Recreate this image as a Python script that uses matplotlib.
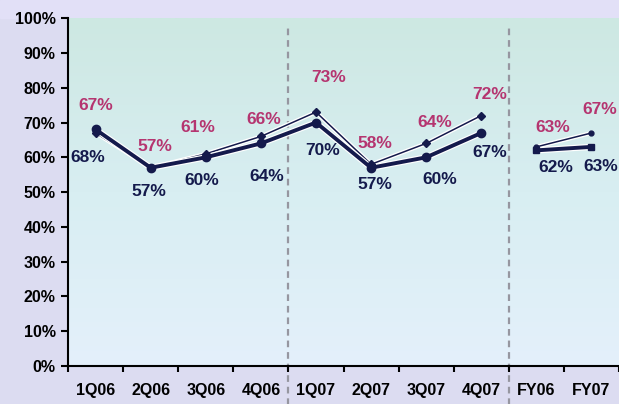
import numpy as np
import matplotlib.pyplot as plt
import matplotlib.patheffects as pe
from matplotlib.colors import LinearSegmentedColormap

# periods: eight quarters then two full years
periods = ['1Q06', '2Q06', '3Q06', '4Q06', '1Q07', '2Q07', '3Q07', '4Q07', 'FY06', 'FY07']
upper = [67, 57, 61, 66, 73, 58, 64, 72, 63, 67]   # thin line, pink labels
lower = [68, 57, 60, 64, 70, 57, 60, 67, 62, 63]   # thick line, navy labels
yticks = [0, 10, 20, 30, 40, 50, 60, 70, 80, 90, 100]

# label offsets in points (dx, dy)
upper_off = [(0, 20), (3, 15), (-6, 19), (2, 12), (9, 25), (3, 15), (6, 15), (6, 15), (12, 14), (6, 17)]
lower_off = [(-6, -20), (-1, -17), (-3, -17), (4, -24), (5, -20), (3, -12), (10, -16), (6, -14), (14, -12), (7, -14)]

navy = '#141a4c'
pink = '#b53570'

plt.rcParams['font.family'] = ['Liberation Sans', 'DejaVu Sans']
plt.rcParams['font.weight'] = 'bold'

fig = plt.figure(figsize=(6.19, 4.04), dpi=100, facecolor='#dcdcf1')
ax = fig.add_axes([0.110, 0.094, 0.890, 0.861])

# lighter lavender band along the top
fig.patches.append(plt.Rectangle((0, 0.955), 1, 0.045, transform=fig.transFigure,
                                 color='#e2e0f7', zorder=-1))

x = np.arange(len(periods))
ax.set_xlim(-0.5, len(periods) - 0.5)
ax.set_ylim(0, 100)

# gradient background inside the plot area
cmap = LinearSegmentedColormap.from_list('bg', ['#e4f0fb', '#d8eef2', '#cde8e2'])
grad = np.linspace(0, 1, 256).reshape(-1, 1)
ax.imshow(grad, extent=[-0.5, len(periods) - 0.5, 0, 100], origin='lower',
          aspect='auto', cmap=cmap, zorder=0)

# separators between the years and the annual figures
for xv in [3.5, 7.5]:
    ax.axvline(xv, ymin=-0.12, ymax=0.98, color='#9696a0', lw=1.6,
               ls=(0, (3, 2.2)), clip_on=False, zorder=1)

outline = [pe.Stroke(linewidth=4.5, foreground='white'), pe.Normal()]
outline_thin = [pe.Stroke(linewidth=3, foreground='white'), pe.Normal()]

q = slice(0, 8)
fy = slice(8, 10)
# lines with a white halo, markers drawn on top without it
ax.plot(x[q], upper[q], color=navy, lw=1.1, zorder=3, path_effects=outline_thin)
ax.plot(x[fy], upper[fy], color=navy, lw=1.1, zorder=3, path_effects=outline_thin)
ax.plot(x[q], lower[q], color=navy, lw=2.8, zorder=4, path_effects=outline)
ax.plot(x[fy], lower[fy], color=navy, lw=2.8, zorder=4, path_effects=outline)
ax.plot(x[q], upper[q], ls='none', color=navy, marker='D', ms=4.5, zorder=4)
ax.plot(x[fy], upper[fy], ls='none', color=navy, marker='o', ms=3.5, zorder=4)
ax.plot(x[q], lower[q], ls='none', color=navy, marker='o', ms=6, zorder=5)
ax.plot(x[fy], lower[fy], ls='none', color=navy, marker='s', ms=5, zorder=5)

for i in range(len(periods)):
    ax.annotate(f'{upper[i]}%', (x[i], upper[i]), xytext=upper_off[i], textcoords='offset points',
                ha='center', va='center', color=pink, fontsize=12.5, fontweight='bold', zorder=6)
    ax.annotate(f'{lower[i]}%', (x[i], lower[i]), xytext=lower_off[i], textcoords='offset points',
                ha='center', va='center', color=navy, fontsize=12.5, fontweight='bold', zorder=6)

ax.set_yticks(yticks)
ax.set_yticklabels([f'{v}%' for v in yticks], fontsize=11.5, fontweight='bold')
ax.set_xticks(x)
ax.set_xticklabels(periods, fontsize=11.5, fontweight='bold')
ax.set_xticks(np.arange(-0.5, len(periods)), minor=True)
ax.tick_params(axis='x', which='major', length=0, pad=12)
ax.tick_params(axis='x', which='minor', length=4, width=1.5, direction='out')
ax.tick_params(axis='y', length=5, width=1.5, direction='out', pad=4)

for s in ['top', 'right']:
    ax.spines[s].set_visible(False)
for s in ['left', 'bottom']:
    ax.spines[s].set_linewidth(1.5)
    ax.spines[s].set_color('black')

fig.savefig('out.png', dpi=100, facecolor=fig.get_facecolor())
